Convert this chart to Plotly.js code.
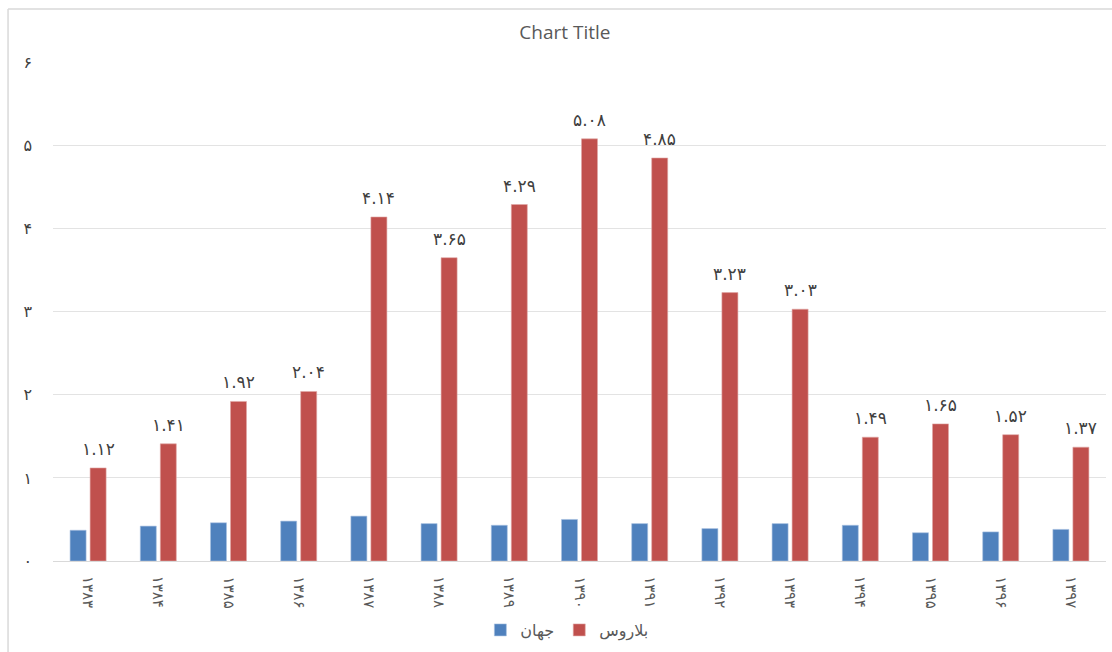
<!DOCTYPE html>
<html>
<head>
<meta charset="utf-8">
<script src="https://cdn.plot.ly/plotly-3.0.1.min.js"></script>
<style>html,body{margin:0;padding:0;background:#fff;}#chart{width:1112px;height:652px;}</style>
</head>
<body>
<div id="chart"></div>
<script>
var categories = ['۱۳۸۳','۱۳۸۴','۱۳۸۵','۱۳۸۶','۱۳۸۷','۱۳۸۸','۱۳۸۹','۱۳۹۰','۱۳۹۱','۱۳۹۲','۱۳۹۳','۱۳۹۴','۱۳۹۵','۱۳۹۶','۱۳۹۷'];
var worldValues = [0.37, 0.42, 0.46, 0.48, 0.54, 0.45, 0.43, 0.50, 0.45, 0.39, 0.45, 0.43, 0.34, 0.35, 0.38];
var belarusValues = [1.12, 1.41, 1.92, 2.04, 4.14, 3.65, 4.29, 5.08, 4.85, 3.23, 3.03, 1.49, 1.65, 1.52, 1.37];
var yTickVals = [0, 1, 2, 3, 4, 5, 6];
var yTickText = ['۰','۱','۲','۳','۴','۵','۶'];
var worldName = 'جهان';
var belarusName = 'بلاروس';

function toPersian(s) {
  var d = '۰۱۲۳۴۵۶۷۸۹';
  return String(s).replace(/[0-9]/g, function (c) { return d[+c]; });
}

var traces = [
  {type: 'bar', name: worldName, x: categories, y: worldValues,
   marker: {color: '#4F81BD', line: {color: '#a9c1e0', width: 0.6}}, hoverinfo: 'x+y'},
  {type: 'bar', name: belarusName, x: categories, y: belarusValues,
   marker: {color: '#C0504D', line: {color: '#e0a8a6', width: 0.6}}, hoverinfo: 'x+y'}
];

var annotations = belarusValues.map(function (v, i) {
  return {x: categories[i], y: v, xref: 'x', yref: 'y', text: toPersian(v.toFixed(2)),
    showarrow: false, yanchor: 'bottom', xshift: 10, yshift: 7,
    font: {family: 'DejaVu Sans', size: 17, color: '#404040'}};
});
// category labels, rotated to read top-to-bottom
categories.forEach(function (c) {
  annotations.push({x: c, y: 0, xref: 'x', yref: 'paper', text: c, textangle: 90,
    showarrow: false, yanchor: 'top', xanchor: 'center', yshift: -13,
    font: {family: 'DejaVu Sans', size: 15, color: '#595959'}});
});

var layout = {
  width: 1112, height: 652,
  margin: {l: 53, r: 6, t: 62, b: 90},
  paper_bgcolor: '#ffffff', plot_bgcolor: '#ffffff',
  title: {text: 'Chart Title', x: 0.508, xanchor: 'center', y: 0.951, yanchor: 'middle', yref: 'container',
    font: {family: 'Open Sans', size: 19, color: '#595959'}},
  barmode: 'group', bargap: 0.43, bargroupgap: 0.2,
  xaxis: {type: 'category', showticklabels: false, showgrid: false, showline: true, linecolor: '#d9d9d9', linewidth: 1,
    ticks: ''},
  yaxis: {range: [0, 6.005], tickvals: yTickVals, ticktext: yTickText, showgrid: true, gridcolor: '#e3e3e3', gridwidth: 1,
    zeroline: false, showline: false, ticks: '', ticklabelstandoff: 20,
    tickfont: {family: 'DejaVu Sans', size: 16, color: '#404040'}},
  showlegend: true,
  legend: {orientation: 'h', x: 0.488, xanchor: 'center', y: -0.136, yanchor: 'middle',
    font: {family: 'DejaVu Sans', size: 16, color: '#595959'}, itemwidth: 30},
  annotations: annotations,
  shapes: [
    {type: 'line', xref: 'paper', yref: 'paper', x0: -0.0427, x1: 1.01, y0: 1.106, y1: 1.106, line: {color: '#d9d9d9', width: 1.5}},
    {type: 'line', xref: 'paper', yref: 'paper', x0: -0.0427, x1: -0.0427, y0: 1.106, y1: -0.2, line: {color: '#d9d9d9', width: 1.5}}
  ]
};

Plotly.newPlot('chart', traces, layout, {displayModeBar: false, staticPlot: true});
</script>
</body>
</html>
